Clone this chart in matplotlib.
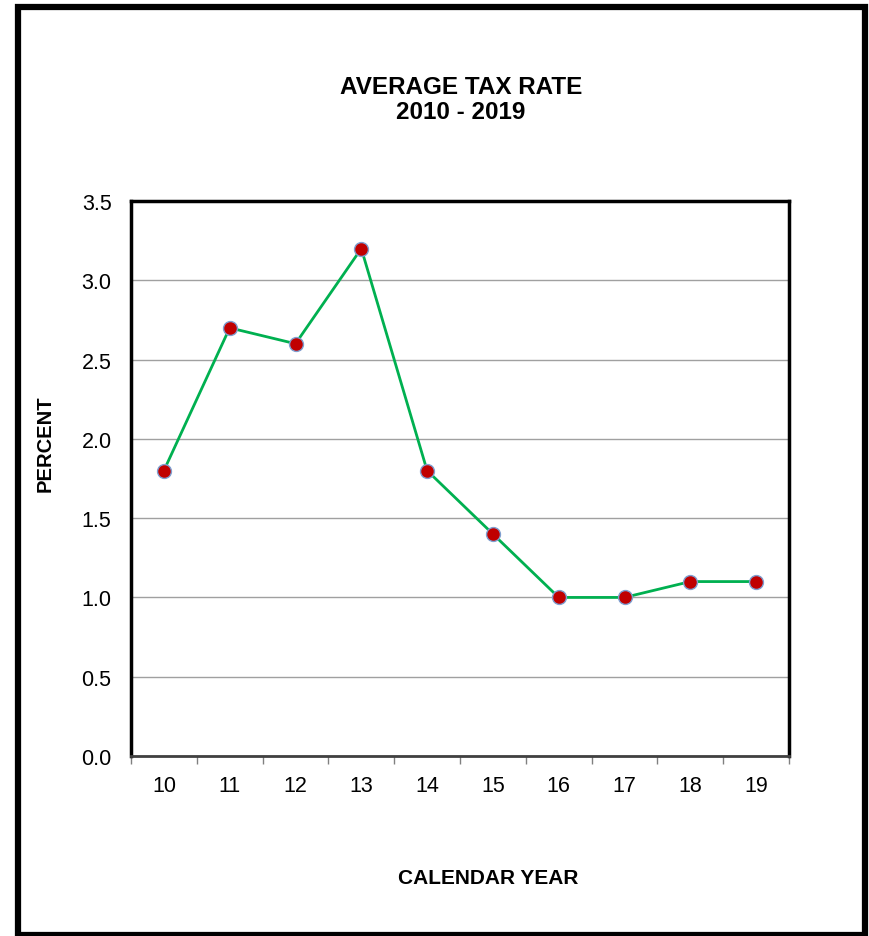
import matplotlib
matplotlib.use("Agg")
import matplotlib.pyplot as plt
from matplotlib.patches import Rectangle
import numpy as np

years = ["10", "11", "12", "13", "14", "15", "16", "17", "18", "19"]
rates = [1.8, 2.7, 2.6, 3.2, 1.8, 1.4, 1.0, 1.0, 1.1, 1.1]
yticks = [0.0, 0.5, 1.0, 1.5, 2.0, 2.5, 3.0, 3.5]

plt.rcParams['font.family'] = ['Liberation Sans', 'DejaVu Sans']

W, H = 869, 937
fig = plt.figure(figsize=(W / 100, H / 100), dpi=100)

# outer frame
fig.patches.append(Rectangle((18 / W, 1 - 936 / H), (865 - 18) / W, (936 - 8) / H,
                             transform=fig.transFigure, fill=False,
                             edgecolor='black', linewidth=4.5, zorder=0))

ax = fig.add_axes([131 / W, 1 - 757 / H, (789 - 131) / W, (757 - 202) / H])
x = np.arange(len(years))
ax.plot(x, rates, color='#00B050', linewidth=2, zorder=3)
ax.scatter(x, rates, s=100, color='#C00000', edgecolors='#7F9FD0', linewidths=1.0, zorder=4)

ax.set_xlim(-0.5, len(years) - 0.5)
ax.set_ylim(0, 3.5)
ax.set_yticks(yticks)
ax.set_yticklabels([f"{v:.1f}" for v in yticks], fontsize=15.5)
ax.set_xticks(x)
ax.set_xticklabels(years, fontsize=15.5)
ax.tick_params(axis='x', which='major', length=0, pad=14)
ax.set_xticks(np.arange(-0.5, len(years), 1.0), minor=True)
ax.tick_params(axis='x', which='minor', length=6, color='#808080', width=1)
ax.tick_params(axis='y', length=0, pad=14)

ax.grid(axis='y', color='#A0A0A0', linewidth=1)
ax.set_axisbelow(True)
for s in ['top', 'left', 'right']:
    ax.spines[s].set_linewidth(2.5)
    ax.spines[s].set_color('black')
ax.spines['bottom'].set_linewidth(2)
ax.spines['bottom'].set_color('#404040')

fig.text(461 / W, 1 - 100 / H, "AVERAGE TAX RATE\n2010 - 2019", ha='center', va='center',
         fontsize=17.5, fontweight='bold', linespacing=1.1)
fig.text(45 / W, 1 - 444 / H, "PERCENT", ha='center', va='center', rotation=90,
         fontsize=14.5, fontweight='bold')
fig.text(488 / W, 1 - 879 / H, "CALENDAR YEAR", ha='center', va='center',
         fontsize=15, fontweight='bold')

fig.savefig("out.png", dpi=100)
